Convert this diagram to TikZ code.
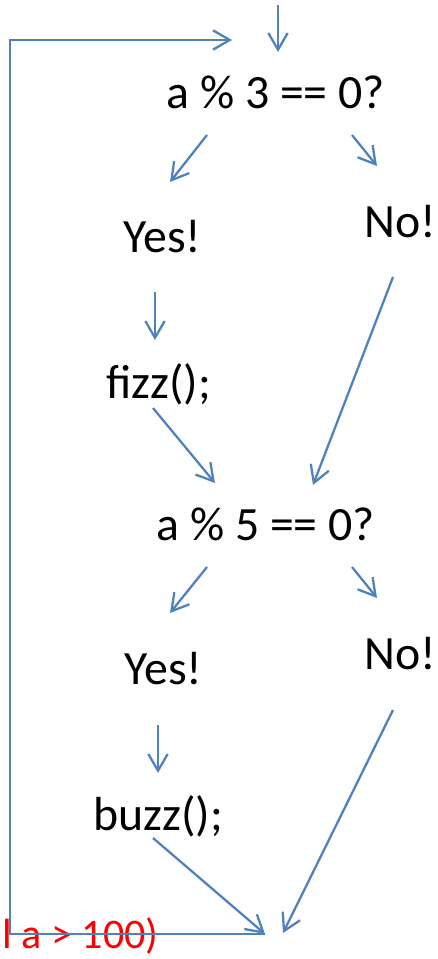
\documentclass[tikz,border=0pt]{standalone}
\usepackage{fontspec}
\setmainfont{Carlito}
\usetikzlibrary{arrows.meta}
\definecolor{flowblue}{HTML}{4F81BD}

\begin{document}
\begin{tikzpicture}[x=0.02cm,y=-0.02cm,
    flow/.style={draw=flowblue,line width=1.3pt,-{Straight Barb[length=9.5pt,width=11pt,line width=1.3pt]}},
    lbl/.style={anchor=base west,inner sep=0pt,font=\fontsize{27.2}{30}\selectfont}]
  \useasboundingbox (0,0) rectangle (438,959);
  % texts
  \node[lbl] (q3) at (166,109) {a \% 3 == 0?};
  \node[lbl] (yes3) at (123,253) {Yes!};
  \node[lbl] (no3) at (364,238) {No!};
  \node[lbl] (fizz) at (106,398) {fizz();};
  \node[lbl] (q5) at (156,540) {a \% 5 == 0?};
  \node[lbl] (yes5) at (124,684) {Yes!};
  \node[lbl] (no5) at (364,669) {No!};
  \node[lbl] (buzz) at (93,830) {buzz();};
  \node[lbl,font=\fontsize{24}{28}\selectfont,text=red] (cond) at (2,948) {l a > 100)};
  % arrow ends
  \coordinate (in-s) at (278,5);      \coordinate (in-e) at (278,52);
  \coordinate (q3y-s) at (207,135);   \coordinate (q3y-e) at (170,182);
  \coordinate (q3n-s) at (352,135);   \coordinate (q3n-e) at (377,166);
  \coordinate (y3f-s) at (155,292);   \coordinate (y3f-e) at (155,340);
  \coordinate (n3q-s) at (393,277);   \coordinate (n3q-e) at (313,485);
  \coordinate (fq-s) at (153,408);    \coordinate (fq-e) at (215,483);
  \coordinate (q5y-s) at (207,567);   \coordinate (q5y-e) at (170,613);
  \coordinate (q5n-s) at (352,567);   \coordinate (q5n-e) at (377,598);
  \coordinate (y5b-s) at (158,725);   \coordinate (y5b-e) at (158,773);
  \coordinate (n5j-s) at (393,710);   \coordinate (n5j-e) at (283,933);
  \coordinate (bj-s) at (153,838);    \coordinate (join) at (265,934);
  \coordinate (loop-bl) at (10,934);  \coordinate (loop-tl) at (10,40);
  \coordinate (back) at (232,40);
  % connectors
  \draw[flow] (in-s) -- (in-e);
  \draw[flow] (q3y-s) -- (q3y-e);
  \draw[flow] (q3n-s) -- (q3n-e);
  \draw[flow] (y3f-s) -- (y3f-e);
  \draw[flow] (n3q-s) -- (n3q-e);
  \draw[flow] (fq-s) -- (fq-e);
  \draw[flow] (q5y-s) -- (q5y-e);
  \draw[flow] (q5n-s) -- (q5n-e);
  \draw[flow] (y5b-s) -- (y5b-e);
  \draw[flow] (n5j-s) -- (n5j-e);
  \draw[flow] (bj-s) -- (join);
  \draw[flow] (join) -- (loop-bl) -- (loop-tl) -- (back);
\end{tikzpicture}
\end{document}
